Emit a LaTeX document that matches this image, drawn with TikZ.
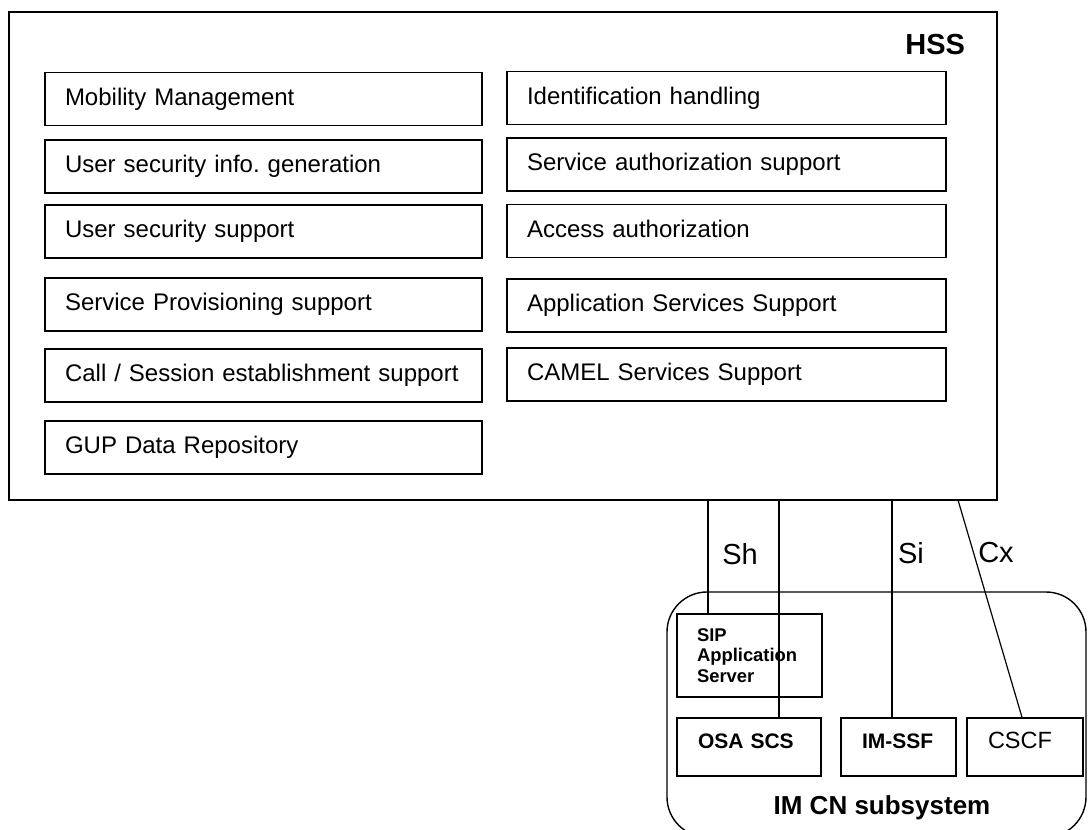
\documentclass[tikz,border=0pt]{standalone}
\usepackage{fontspec}
\setmainfont{Liberation Sans}
\usepackage{tikz}
\frenchspacing

\begin{document}
\begin{tikzpicture}[x=0.5pt,y=-0.5pt,
  fnbox/.style={draw,line width=0.7pt,minimum height=26.5pt,inner xsep=10pt,align=left,text height=9pt,text depth=3pt,font=\fontsize{12}{14}\selectfont},
  leftbox/.style={fnbox,minimum width=218.5pt,text width=198.5pt},
  rightbox/.style={fnbox,minimum width=219.5pt,text width=199.5pt},
  elembox/.style={draw,line width=0.7pt,minimum height=29pt,inner xsep=10.5pt,align=left,text height=7.5pt,text depth=6pt},
  ifline/.style={line width=0.6pt},
  iflabel/.style={font=\fontsize{14.5}{17}\selectfont}]
  \clip (0,0) rectangle (1088,830);
  % HSS
  \node[draw,line width=1pt,minimum width=494pt,minimum height=244pt] (hss) at (503,256) {};
  \node[anchor=east,font=\bfseries\fontsize{14.5}{17}\selectfont] (hsslbl) at (972,45) {HSS};
  \node[leftbox] (mob) at (263.5,99) {Mobility Management};
  \node[leftbox] (usig) at (263.5,166.5) {User security info. generation};
  \node[leftbox] (uss) at (263.5,231.5) {User security support};
  \node[leftbox] (spro) at (263.5,304.5) {Service Provisioning support};
  \node[leftbox] (call) at (263.5,375.5) {Call / Session establishment support};
  \node[leftbox] (gup) at (263.5,447.5) {GUP Data Repository};
  \node[rightbox] (ident) at (726.5,98) {Identification handling};
  \node[rightbox] (sauth) at (726.5,164.5) {Service authorization support};
  \node[rightbox] (aauth) at (726.5,231) {Access authorization};
  \node[rightbox] (apps) at (726.5,305.5) {Application Services Support};
  \node[rightbox] (camel) at (726.5,374.5) {CAMEL Services Support};
  % IM CN subsystem
  \node[draw,line width=0.7pt,rounded corners=20pt,minimum width=209.5pt,minimum height=122.5pt] (ims) at (876.5,714.5) {};
  \node[font=\bfseries\fontsize{13}{15}\selectfont] (imslbl) at (882,808) {IM CN subsystem};
  \node[draw,line width=0.7pt,minimum width=72.5pt,minimum height=41.5pt,inner xsep=10pt,text width=52.5pt,align=left,
    font=\bfseries\fontsize{9.2}{10.25}\selectfont] (sip) at (749.5,655.5) {SIP\\Application\\Server};
  \node[elembox,text width=51pt,font=\bfseries\fontsize{10.5}{12}\selectfont] (osa) at (749,747) {OSA SCS};
  \node[elembox,text width=36.5pt,font=\bfseries\fontsize{10.5}{12}\selectfont] (imssf) at (898.5,747) {IM-SSF};
  \node[elembox,text width=37pt,font=\fontsize{11.75}{14}\selectfont] (cscf) at (1025,747) {CSCF};
  % interfaces
  \coordinate (shA) at (708,500);
  \coordinate (shB) at (779,500);
  \coordinate (siA) at (892,500);
  \coordinate (cxA) at (958,500);
  \draw[ifline] (shA) -- (shA |- sip.north);
  \draw[ifline] (shB) -- (shB |- osa.north);
  \draw[ifline] (siA) -- (siA |- imssf.north);
  \draw[ifline] (cxA) -- ([xshift=-1.5pt]cscf.north);
  \node[iflabel] (shlbl) at (740,554) {Sh};
  \node[iflabel] (silbl) at (911,553) {Si};
  \node[iflabel] (cxlbl) at (996,553) {Cx};
\end{tikzpicture}
\end{document}
